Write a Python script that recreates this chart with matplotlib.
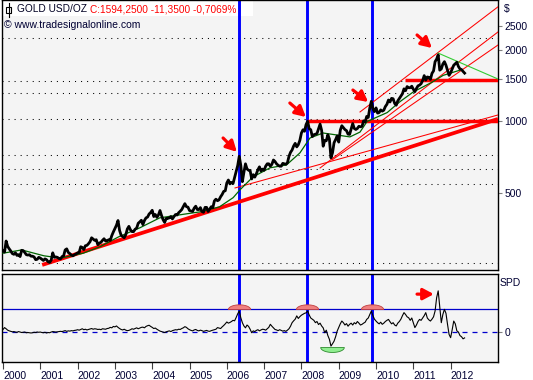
import numpy as np
import matplotlib
matplotlib.use('Agg')
import matplotlib.pyplot as plt
from matplotlib.path import Path
from matplotlib.patches import Rectangle
from matplotlib.lines import Line2D

# --- gold price, semi-monthly, from Jan 2000 ---
g2000 = [288, 284, 316, 300, 293, 287, 280, 278, 282, 275, 277, 272, 289, 288, 283, 277, 276, 277, 273, 273, 271, 264, 265, 270]
g2001 = [268, 265, 262, 266, 264, 259, 257, 263, 282, 270, 271, 270, 267, 266, 272, 274, 290, 293, 283, 280, 276, 274, 277, 279]
g2002 = [282, 283, 299, 297, 291, 302, 303, 308, 314, 326, 322, 318, 320, 305, 310, 312, 318, 323, 316, 317, 320, 318, 333, 345]
g2003 = [356, 368, 385, 350, 334, 330, 326, 336, 355, 364, 352, 346, 346, 354, 358, 375, 380, 386, 370, 385, 395, 398, 410, 416]
g2004 = [425, 400, 408, 397, 406, 424, 404, 388, 378, 393, 393, 395, 400, 391, 400, 408, 406, 415, 421, 428, 440, 453, 440, 438]
g2005 = [424, 422, 420, 434, 442, 428, 428, 436, 420, 417, 437, 437, 420, 430, 440, 436, 465, 473, 466, 470, 484, 495, 510, 513]
g2006 = [553, 569, 548, 556, 550, 583, 617, 654, 715, 655, 560, 613, 665, 633, 625, 623, 575, 599, 585, 604, 628, 646, 620, 632]
g2007 = [625, 650, 665, 665, 650, 662, 690, 680, 665, 656, 650, 650, 668, 665, 662, 672, 715, 743, 760, 790, 810, 783, 800, 834]
g2008 = [895, 923, 910, 971, 1002, 933, 924, 865, 880, 885, 890, 930, 975, 918, 788, 834, 830, 880, 845, 705, 740, 815, 840, 870]
g2009 = [820, 919, 960, 942, 925, 916, 885, 883, 930, 980, 935, 926, 935, 955, 950, 955, 1006, 995, 1050, 1040, 1140, 1215, 1130, 1100]
g2010 = [1140, 1084, 1090, 1118, 1105, 1115, 1155, 1180, 1230, 1207, 1250, 1245, 1190, 1170, 1220, 1248, 1275, 1307, 1370, 1346, 1400, 1385, 1385, 1405]
g2011 = [1365, 1333, 1375, 1410, 1420, 1439, 1485, 1556, 1490, 1536, 1530, 1500, 1590, 1628, 1780, 1825, 1900, 1640, 1660, 1740, 1780, 1720, 1640, 1560]
g2012 = [1600, 1660, 1720, 1745, 1770, 1700, 1660, 1650, 1620, 1594]

# --- SPD indicator, same dates ---
s2000 = [11, 19, 14, 8, 5, 3, 1, 2, 0, -1, 2, 0, -2, -1, 0, -3, -2, -3, -4, -3, -1, -2, 0, -1]
s2001 = [0, -2, -3, -1, -4, -2, -3, 0, 2, 1, 0, 1, 2, 3, 2, 4, 6, 3, 5, 4, 6, 5, 7, 8]
s2002 = [10, 8, 11, 14, 10, 12, 9, 11, 13, 15, 12, 14, 13, 11, 12, 10, 14, 13, 12, 15, 16, 20, 18, 24]
s2003 = [22, 26, 20, 15, 11, 9, 12, 8, 6, 7, 10, 14, 12, 15, 18, 14, 17, 20, 21, 18, 24, 27, 29, 24]
s2004 = [20, 15, 17, 12, 8, 4, 2, 0, -2, 1, 3, 5, 2, 6, 8, 10, 9, 12, 11, 15, 18, 23, 20, 14]
s2005 = [10, 7, 5, 9, 11, 7, 5, 8, 6, 3, 5, 7, 4, 3, 6, 8, 10, 12, 19, 17, 15, 22, 28, 35]
s2006 = [43, 38, 41, 45, 50, 48, 62, 78, 90, 61, 40, 26, 18, 30, 24, 12, -3, 5, 2, 7, 10, 5, 9, 12]
s2007 = [11, 8, 14, 20, 33, 25, 18, 11, 9, 6, 10, 7, 4, 6, 3, 8, 14, 25, 40, 48, 55, 69, 58, 66]
s2008 = [72, 76, 80, 82, 90, 73, 60, 55, 50, 40, 45, 32, 38, 26, 18, -3, 8, -15, -31, -60, -50, -39, -20, 4]
s2009 = [20, 35, 47, 40, 30, 36, 25, 33, 38, 30, 40, 35, 45, 38, 30, 33, 38, 42, 54, 60, 75, 90, 70, 55]
s2010 = [47, 40, 35, 42, 33, 38, 45, 50, 54, 44, 35, 40, 30, 26, 38, 45, 55, 70, 83, 75, 65, 61, 50, 60]
s2011 = [40, 19, 30, 45, 54, 50, 60, 70, 83, 60, 52, 47, 55, 65, 90, 147, 176, 110, 40, 75, 97, 80, 33, -10]
s2012 = [-24, 10, 47, 35, 5, 0, -15, -20, -29, -25]

# moving average (dark green), read at a few dates
ma_t = [2000.0, 2000.5, 2001.1, 2001.55, 2002.15, 2002.6, 2003.1, 2003.67, 2004.2, 2004.75, 2005.3, 2005.8,
        2006.17, 2006.35, 2006.7, 2007.16, 2007.6, 2007.96, 2008.23, 2008.58, 2008.95, 2009.3, 2009.57,
        2009.76, 2010.3, 2010.64, 2011.0, 2011.5, 2011.8, 2012.25]
ma_v = [281, 290, 274, 268, 281, 299, 329, 359, 395, 407, 419, 439,
        480, 517, 586, 640, 658, 739, 853, 895, 878, 862, 903,
        1000, 1090, 1210, 1330, 1460, 1560, 1640]

# trend lines: (t0, p0, t1, p1)
thick_lines = [(2001.05, 251, 2013.27, 1025)]
thin_lines = [(2006.22, 527, 2013.27, 1065),
              (2008.50, 639, 2013.27, 2370),
              (2008.82, 690, 2013.27, 2090),
              (2009.57, 1096, 2013.27, 3020)]
levels = [(2008.15, 1000), (2010.78, 1490)]
green_down = (2011.66, 1935, 2013.27, 1506)
peaks = [2006.33, 2008.15, 2009.89]
spd_low = 2008.82
grid_levels = [2236, 1477, 1310, 1024, 724, 633, 545, 255]
price_ticks = [500, 1000, 1500, 2000, 2500]
years = list(range(2000, 2013))

gold = np.array(g2000 + g2001 + g2002 + g2003 + g2004 + g2005 + g2006 + g2007 + g2008 + g2009 + g2010 + g2011 + g2012)
spd = np.array(s2000 + s2001 + s2002 + s2003 + s2004 + s2005 + s2006 + s2007 + s2008 + s2009 + s2010 + s2011 + s2012)
t = 2000 + np.arange(len(gold)) / 24.0

W, H = 533, 380
fig = plt.figure(figsize=(W / 100, H / 100), dpi=100)
fig.patch.set_facecolor('white')


def fx(x):
    return x / W


def fy(y):
    return 1 - y / H


FONT = 'Liberation Sans'
TXT = '#000033'
BG = '#F4F4F4'
XL = (1999.973, 2013.27)
ARROW = dict(arrowstyle='-|>,head_length=0.45,head_width=0.24', mutation_scale=14, lw=2.3,
             color='#FF0000', shrinkA=0, shrinkB=0)

ax = fig.add_axes([fx(2), fy(270), fx(498) - fx(2), fy(0) - fy(270)])
ax2 = fig.add_axes([fx(2), fy(362), fx(498) - fx(2), fy(274) - fy(362)])

# ---------------- main panel ----------------
ax.set_facecolor(BG)
ax.set_yscale('log')
ax.set_xlim(*XL)
ax.set_ylim(239, 3225)
for g in grid_levels:
    ax.axhline(g, color='black', lw=0.75, linestyle=(0, (1, 4.8)), zorder=1)

# white box behind title line
ax.add_patch(Rectangle((0, fy(16)), fx(253), 16 / H, transform=fig.transFigure,
                       facecolor='white', edgecolor='none', zorder=1.5, clip_on=False))

for p in peaks:
    ax.axvline(p, color='#0000FF', lw=2.1, zorder=2)

for t0, p0, t1, p1 in thick_lines:
    ax.plot([t0, t1], [p0, p1], color='#FF0000', lw=2.7, zorder=3, solid_capstyle='butt')
for t0, p0, t1, p1 in thin_lines:
    ax.plot([t0, t1], [p0, p1], color='#FF0000', lw=0.75, zorder=3)
for t0, p0 in levels:
    ax.plot([t0, XL[1]], [p0, p0], color='#FF0000', lw=2.5, zorder=3, solid_capstyle='butt')
ax.plot([green_down[0], green_down[2]], [green_down[1], green_down[3]], color='#33CC33', lw=0.8, zorder=3)

ax.plot(ma_t, ma_v, color='#006400', lw=0.9, zorder=3.5)
ax.plot(t, gold, color='black', lw=2.0, zorder=4)

arrows = [((2005.90, 853), (2006.27, 746)),
          ((2007.69, 1195), (2008.12, 1044)),
          ((2009.38, 1354), (2009.79, 1207)),
          ((2011.10, 2302), (2011.50, 2030))]
for tail, head in arrows:
    ax.annotate('', xy=head, xytext=tail, zorder=5, arrowprops=ARROW)

ax.yaxis.tick_right()
ax.set_yticks(price_ticks)
ax.set_yticklabels([str(v) for v in price_ticks])
ax.yaxis.set_minor_locator(matplotlib.ticker.NullLocator())
ax.tick_params(axis='y', which='major', length=3, width=0.8, color='#808080', pad=1.5,
               labelsize=7.5, labelcolor=TXT)
for lab in ax.get_yticklabels():
    lab.set_fontfamily(FONT)
ax.set_xticks([])
for s in ax.spines.values():
    s.set_color('black')
    s.set_linewidth(1.0)

# ---------------- SPD panel ----------------
ax2.set_facecolor(BG)
ax2.set_xlim(*XL)
ax2.set_ylim(-128, 248)
for p in peaks:
    ax2.axvline(p, color='#0000FF', lw=2.1, zorder=2)
ax2.axhline(100, color='#0000CC', lw=0.9, zorder=2)
ax2.axhline(0, color='#0000CC', lw=0.9, linestyle=(0, (4, 4)), zorder=2)
ax2.plot(t, spd, color='black', lw=0.8, zorder=4)

top_half = Path([(np.cos(a), 0.42 * np.sin(a)) for a in np.linspace(0, np.pi, 25)] + [(1, 0)], closed=True)
bot_half = Path([(np.cos(a), -0.42 * np.sin(a)) for a in np.linspace(0, np.pi, 25)] + [(1, 0)], closed=True)
ax2.plot(peaks, [100] * len(peaks), linestyle='none', marker=top_half, markersize=16,
         markerfacecolor='#F08080', markeredgecolor='#C04040', markeredgewidth=0.6, zorder=3)
ax2.plot([spd_low], [-62], linestyle='none', marker=bot_half, markersize=17,
         markerfacecolor='#90EE90', markeredgecolor='#2E8B2E', markeredgewidth=0.6, zorder=3)
ax2.annotate('', xy=(2011.55, 162), xytext=(2011.10, 162), zorder=5, arrowprops=ARROW)

ax2.yaxis.tick_right()
ax2.set_yticks([0])
ax2.set_yticklabels(['0'])
ax2.tick_params(axis='y', length=3, width=0.8, color='#808080', pad=1.5, labelsize=7.5, labelcolor=TXT)
ax2.set_xticks(years)
ax2.set_xticklabels([str(y) for y in years])
ax2.tick_params(axis='x', length=5, width=0.8, color='#404040', pad=1.5, labelsize=7.5, labelcolor=TXT)
for lab in ax2.get_xticklabels():
    lab.set_horizontalalignment('left')
    lab.set_fontfamily(FONT)
for lab in ax2.get_yticklabels():
    lab.set_fontfamily(FONT)
for s in ax2.spines.values():
    s.set_color('black')
    s.set_linewidth(1.0)

# ---------------- texts ----------------
fig.text(fx(17), fy(9.5), 'GOLD USD/OZ', color='#000022', fontsize=7.3, family=FONT, va='center')
fig.text(fx(90), fy(9.5), 'C:1594,2500 -11,3500 -0,7069%', color='#FF0000', fontsize=7.3, family=FONT, va='center')
fig.text(fx(4), fy(25), '\u00a9 www.tradesignalonline.com', color='#000033', fontsize=7.5, family=FONT, va='center')
fig.text(fx(504), fy(9), '$', color=TXT, fontsize=7.5, family=FONT, va='center')
fig.text(fx(500), fy(283), 'SPD', color=TXT, fontsize=7.5, family=FONT, va='center')

# small candle icon
fig.add_artist(Line2D([fx(8.5), fx(8.5)], [fy(3), fy(17)], color='black', lw=0.8))
fig.add_artist(Rectangle((fx(6), fy(13)), 5 / W, 6 / H, facecolor='white', edgecolor='black', lw=0.8,
                         transform=fig.transFigure))

plt.savefig('out.png', dpi=100)
